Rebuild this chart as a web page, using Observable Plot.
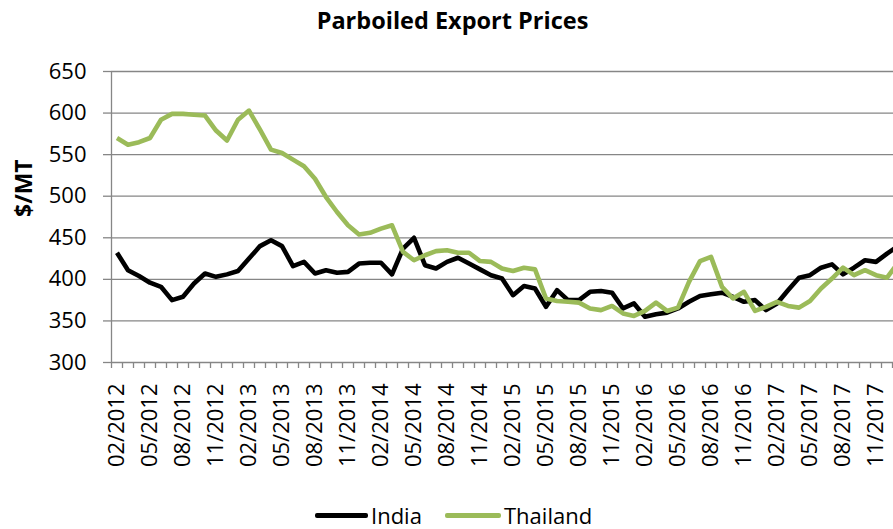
<!DOCTYPE html>
<html><head><meta charset="utf-8">
<script src="https://cdn.jsdelivr.net/npm/d3@7"></script>
<script src="https://cdn.jsdelivr.net/npm/@observablehq/plot@0.6"></script>
<style>
body{margin:0;background:#fff;font-family:"Open Sans",sans-serif;}
#wrap{width:893px;height:529px;position:relative;overflow:hidden;background:#fff;}
#title{height:44px;line-height:40px;text-align:center;font-weight:700;font-size:23.5px;padding-left:12px;box-sizing:border-box;color:#000;}
#chart{height:455px;}
.lg{position:absolute;top:503px;height:24px;line-height:24px;display:flex;align-items:center;font-size:22px;color:#000;}
.sw{height:5px;border-radius:2px;margin-right:3px;}
</style></head><body>
<div id="wrap">
  <div id="title">Parboiled Export Prices</div>
  <div id="chart"></div>
</div>
<script>
// Monthly prices, $/MT, starting 02/2012
const india = [432,411,404,396,391,375,379,395,407,403,406,410,425,440,447,440,416,421,407,411,408,409,419,420,
               420,406,437,450,417,413,421,426,419,412,405,401,381,392,389,367,387,375,375,385,386,384,365,371,
               355,358,360,365,373,380,382,384,379,373,375,363,371,387,402,405,414,418,406,414,423,421,431,440];
const thailand = [570,562,565,570,592,599,599,598,597,579,567,592,603,580,556,552,544,536,521,499,481,465,454,456,
                  461,465,433,423,429,434,435,432,432,422,421,413,410,414,412,377,374,373,372,365,363,368,359,356,
                  362,372,362,366,397,422,427,391,377,385,362,367,373,368,366,374,389,401,414,405,411,405,402,420];
const seriesNames = ["India","Thailand"];
const seriesColors = ["#000000","#9BBB59"];
const tickLabels = ["02/2012","05/2012","08/2012","11/2012","02/2013","05/2013","08/2013","11/2013",
                    "02/2014","05/2014","08/2014","11/2014","02/2015","05/2015","08/2015","11/2015",
                    "02/2016","05/2016","08/2016","11/2016","02/2017","05/2017","08/2017","11/2017"];
const yTicks = [300,350,400,450,500,550,600,650];

const data = [india, thailand].flatMap((vals, s) => vals.map((v, i) => ({i, v, name: seriesNames[s]})));
const labelIdx = tickLabels.map((_, k) => k * 3);
const boundaries = d3.range(-0.5, 71, 1);
const grey = "#868686";

const chart = Plot.plot({
  width: 893, height: 455,
  marginLeft: 111, marginRight: 0, marginTop: 27, marginBottom: 137,
  x: {type: "linear", domain: [-0.5, 70.59]},
  y: {domain: [300, 650]},
  color: {domain: seriesNames, range: seriesColors},
  style: {fontFamily: "'Open Sans', sans-serif", fontSize: "22px", color: "#000", background: "white"},
  marks: [
    Plot.gridY({ticks: yTicks, stroke: grey, strokeOpacity: 1, strokeWidth: 1.3}),
    Plot.axisY({ticks: yTicks, tickSize: 8, tickPadding: 17, stroke: grey, strokeWidth: 1.3, fill: "#000", fontSize: 22, label: null}),
    Plot.axisX({ticks: boundaries, tickSize: 6, tickFormat: () => "", stroke: grey, strokeWidth: 1.3, label: null}),
    Plot.axisX({ticks: labelIdx, tickSize: 0, tickRotate: -90, tickPadding: 21, fill: "#000", fontSize: 22,
                tickFormat: i => tickLabels[Math.round(i / 3)], label: null}),
    Plot.ruleX([-0.5], {stroke: grey, strokeWidth: 1.3}),
    Plot.text(["$/MT"], {frameAnchor: "left", dx: -87, rotate: -90, fontWeight: "bold", fontSize: 23, fill: "#000"}),
    Plot.line(data, {x: "i", y: "v", z: "name", stroke: "name", strokeWidth: 4.6,
                     strokeLinejoin: "round", strokeLinecap: "butt", clip: true})
  ]
});
document.getElementById("chart").appendChild(chart);

// legend
const wrap = document.getElementById("wrap");
const legendPos = [{sw: 315, w: 53}, {sw: 445, w: 56}];
seriesNames.forEach((n, k) => {
  const d = document.createElement("div");
  d.className = "lg";
  d.style.left = legendPos[k].sw + "px";
  const s = document.createElement("div");
  s.className = "sw";
  s.style.width = legendPos[k].w + "px";
  s.style.background = seriesColors[k];
  const t = document.createElement("span");
  t.textContent = n;
  d.appendChild(s); d.appendChild(t);
  wrap.appendChild(d);
});
</script>
</body></html>
